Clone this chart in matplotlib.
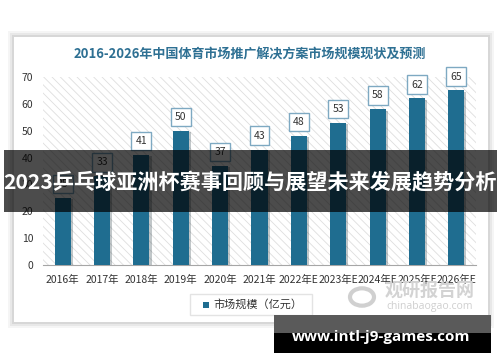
import matplotlib.pyplot as plt
import matplotlib.patheffects as pe
from matplotlib.patches import Rectangle, Circle

plt.rcParams['font.family'] = ['Noto Sans CJK SC', 'DejaVu Sans']
plt.rcParams['hatch.linewidth'] = 0.6

years = ['2016年', '2017年', '2018年', '2019年', '2020年', '2021年',
         '2022年E', '2023年E', '2024年E', '2025年E', '2026年E']
values = [25, 33, 41, 50, 37, 43, 48, 53, 58, 62, 65]
yticks = [0, 10, 20, 30, 40, 50, 60, 70]

bar_color = '#1f6d90'
W, H = 500, 362

def fx(px):
    return px / W

def fy(py):
    return 1 - py / H

fig = plt.figure(figsize=(5, 3.62), dpi=100)
fig.patch.set_facecolor('white')

# card with soft shadow
for i, a in enumerate([0.04, 0.05, 0.07]):
    d = 6 - 2 * i
    fig.add_artist(Rectangle((fx(14 - d), fy(322 + d)), fx(474 + 2 * d), (285 + 2 * d) / H,
                             transform=fig.transFigure, facecolor='black', alpha=a,
                             edgecolor='none', zorder=0.1))
fig.add_artist(Rectangle((fx(14), fy(322)), fx(474), 285 / H, transform=fig.transFigure,
                         facecolor='white', edgecolor='none', zorder=0.2))

fig.text(0.5, fy(54), '2016-2026年中国体育市场推广解决方案市场规模现状及预测',
         ha='center', va='center', fontsize=9.4, fontweight='bold', color='#2e7093')

ax = fig.add_axes([fx(43), fy(265), fx(433), (265 - 77) / H])
ax.set_zorder(1)
ax.set_facecolor('white')
ax.patch.set_hatch('\\\\\\\\')
ax.patch.set_edgecolor('#dedede')
ax.patch.set_linewidth(0)

x = range(len(years))
bars = ax.bar(x, values, width=0.41, color=bar_color, zorder=3)
for b in bars:
    b.set_path_effects([pe.SimplePatchShadow(offset=(1.5, -1), alpha=0.25), pe.Normal()])

for i, v in enumerate(values):
    ax.annotate(str(v), (i, v), xytext=(0, 10), textcoords='offset points',
                ha='center', va='center', fontsize=7.5, color='#333333', zorder=5,
                bbox=dict(boxstyle='square,pad=0.4', facecolor='white',
                          edgecolor='#7ea9c2', linewidth=1))

ax.set_xlim(-0.5, len(years) - 0.5)
ax.set_ylim(0, 70)
ax.set_yticks(yticks)
ax.set_xticks(list(x))
ax.set_xticklabels(years, fontsize=7.5, color='#333333')
ax.tick_params(axis='both', length=0, labelsize=7.5, colors='#333333')
ax.tick_params(axis='x', pad=7)
ax.tick_params(axis='y', pad=7)
for s in ['top', 'right', 'left']:
    ax.spines[s].set_visible(False)
ax.spines['bottom'].set_color('#a6a6a6')

# legend
fig.add_artist(Rectangle((fx(190), fy(315)), fx(122), 21 / H, transform=fig.transFigure,
                         facecolor='white', edgecolor='#e3e3e3', linewidth=1, zorder=2))
fig.add_artist(Rectangle((fx(203), fy(307.5)), fx(6), 6 / H, transform=fig.transFigure,
                         facecolor=bar_color, edgecolor='none', zorder=3))
fig.text(fx(213), fy(304.5), '市场规模（亿元）', ha='left', va='center',
         fontsize=8, color='#333333', zorder=3)

# watermark
fig.add_artist(Circle((fx(362), fy(297)), 12 / W, transform=fig.transFigure, facecolor='none',
                      edgecolor='#d0d0d0', linewidth=3, zorder=2))
fig.text(fx(430), fy(290), '观研报告网', ha='center', va='center', fontsize=13,
         fontweight='bold', color='#d3d3d3', zorder=2)
fig.text(fx(430), fy(306), 'chinabaogao.com', ha='center', va='center', fontsize=7.5,
         color='#cfcfcf', zorder=2, family=['Open Sans', 'DejaVu Sans'])

# overlay band
fig.add_artist(Rectangle((fx(4), fy(212)), fx(493), 62 / H, transform=fig.transFigure,
                         facecolor='black', alpha=0.7, edgecolor='none', zorder=10))
fig.text(0.5, fy(183), '2023乒乓球亚洲杯赛事回顾与展望未来发展趋势分析', ha='center',
         va='center', fontsize=15.2, fontweight='bold', color='white', zorder=11)

# bottom banner
fig.add_artist(Rectangle((fx(274), fy(333)), fx(217), 18 / H, transform=fig.transFigure,
                         facecolor='#5a5a5a', edgecolor='none', zorder=10))
fig.add_artist(Rectangle((fx(274), fy(353)), fx(217), 20 / H, transform=fig.transFigure,
                         facecolor='black', edgecolor='none', zorder=10))
fig.text(fx(381), fy(337), 'www.intl-j9-games.com', ha='center', va='center', fontsize=11,
         fontweight='bold', color='white', zorder=11, family=['Open Sans', 'DejaVu Sans'])

fig.savefig('out.png', dpi=100)
